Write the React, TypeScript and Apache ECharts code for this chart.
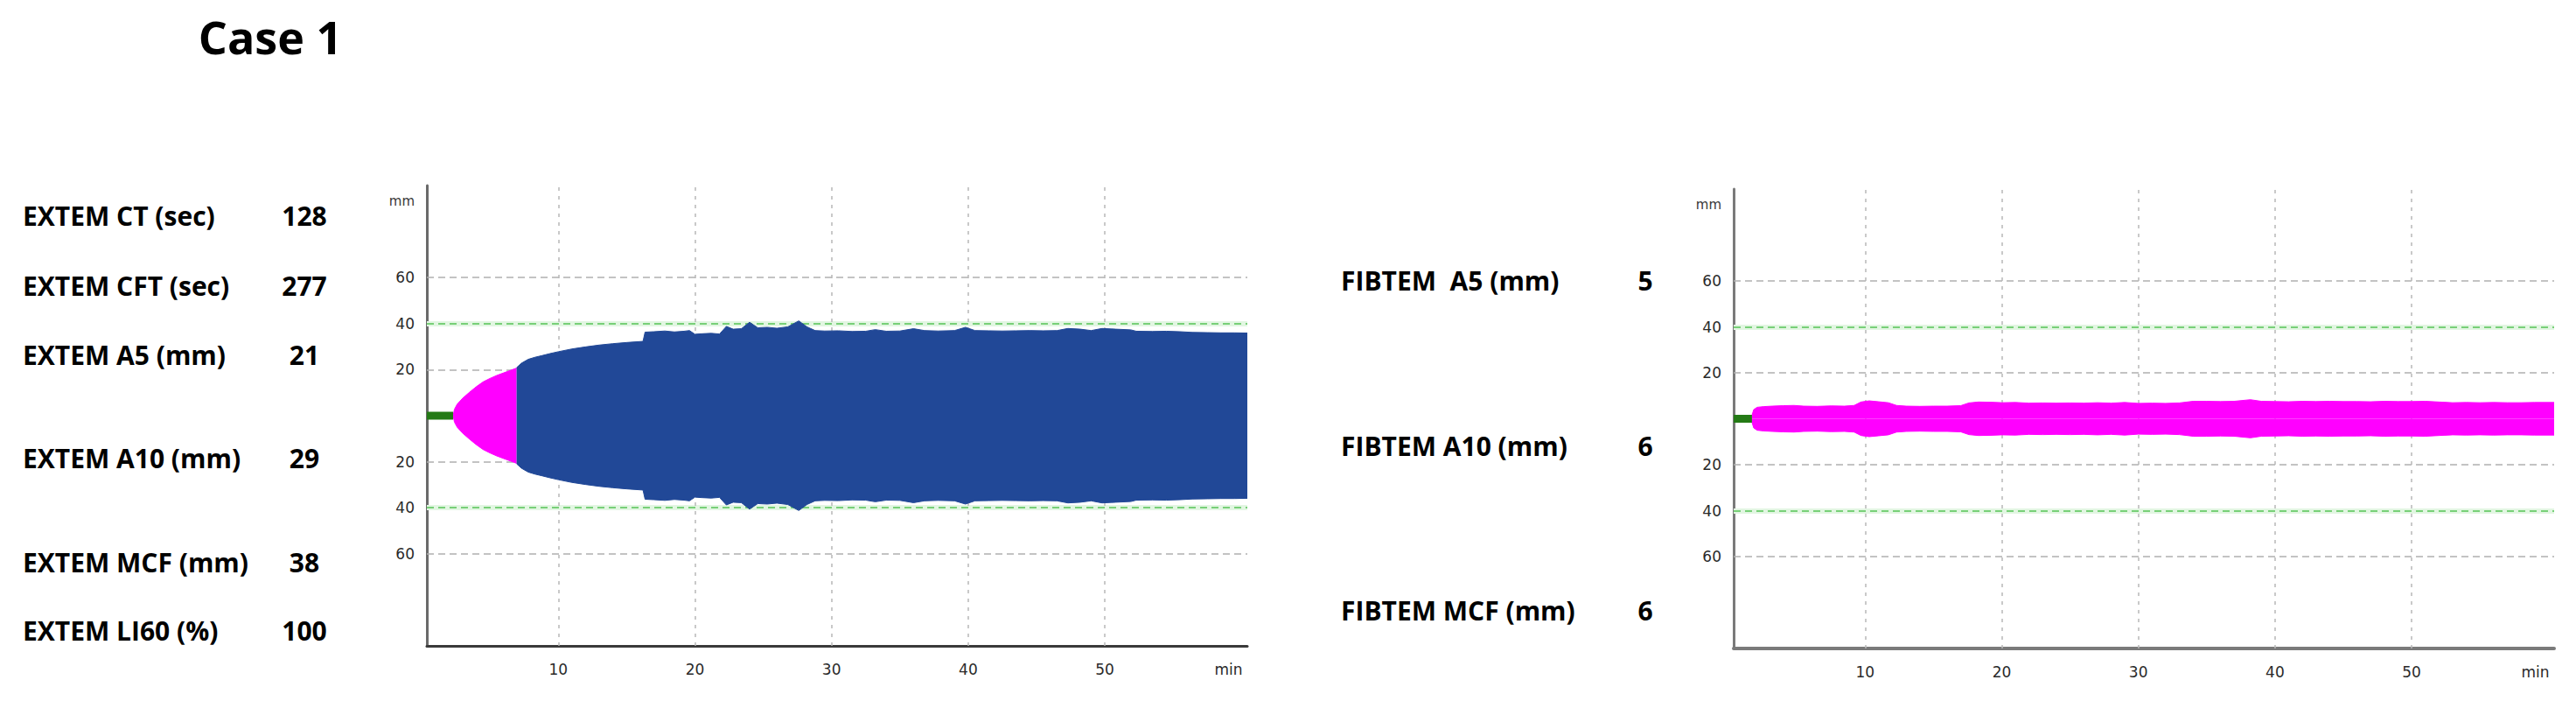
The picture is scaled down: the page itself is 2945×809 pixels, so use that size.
import React, { useEffect, useRef } from "react";
import * as echarts from "echarts";

// ---------- data ----------
const titleText = "Case 1";

const extemLabels = [
  "EXTEM CT (sec)",
  "EXTEM CFT (sec)",
  "EXTEM A5 (mm)",
  "EXTEM A10 (mm)",
  "EXTEM MCF (mm)",
  "EXTEM LI60 (%)",
];
const extemValues = ["128", "277", "21", "29", "38", "100"];

const fibtemLabels = ["FIBTEM  A5 (mm)", "FIBTEM A10 (mm)", "FIBTEM MCF (mm)"];
const fibtemValues = ["5", "6", "6"];

const xTickValues = [10, 20, 30, 40, 50];
const yTickValues = [60, 40, 20, -20, -40, -60];
const greyGridValues = [60, 20, -20, -60];
const greenGridValues = [40, -40];
const xUnit = "min";
const yUnit = "mm";

// EXTEM trace (time in min, half amplitude in mm)
const extemBaselineT = [0.38, 2.3];
const extemPinkT = [2.3, 2.4, 2.6, 3.0, 3.5, 4.0, 4.5, 5.0, 5.5, 6.0, 6.5, 6.95];
const extemPinkAmp = [0, 2.8, 5.0, 7.6, 10.2, 12.6, 14.7, 16.2, 17.5, 18.6, 19.7, 20.7];
const extemBlueT = [
  6.95, 7.3, 7.8, 8.3, 8.8, 9.4, 10.0, 11.0, 12.0, 13.0, 14.0, 15.0, 16.2, 16.35,
  17.0, 17.8, 18.5, 19.2, 19.6, 20.0, 20.5, 21.2, 21.8, 22.3, 22.8, 23.4, 24.0,
  24.6, 25.3, 26.0, 26.8, 27.6, 28.2, 28.8, 29.5, 30.5, 31.5, 32.5, 33.2, 34.0,
  35.0, 36.0, 36.8, 37.8, 39.0, 39.8, 40.5, 41.5, 42.5, 43.5, 44.5, 45.5, 46.5,
  47.3, 48.2, 49.0, 49.8, 50.8, 51.9, 52.3, 53.5, 54.5, 55.5, 56.4, 57.5, 58.5,
  59.5, 60.43,
];
const extemBlueAmp = [
  20.9, 22.8, 24.5, 25.4, 26.1, 27.0, 27.8, 29.0, 29.9, 30.7, 31.3, 31.8, 32.3, 36.3,
  36.5, 36.8, 36.4, 36.7, 37.0, 35.4, 35.6, 35.8, 35.5, 38.8, 37.6, 37.8, 40.6,
  38.2, 38.4, 38.0, 38.6, 41.2, 38.6, 37.0, 36.8, 36.9, 36.6, 36.7, 37.4, 36.7,
  36.8, 37.8, 37.0, 36.8, 37.0, 38.4, 37.0, 36.9, 36.8, 36.9, 37.0, 36.9, 37.0,
  37.9, 37.6, 37.0, 37.9, 37.6, 37.3, 36.7, 36.6, 36.7, 36.5, 36.2, 36.1, 36.0,
  36.0, 35.9,
];

// FIBTEM trace
const fibtemBaselineT = [0.38, 1.72];
const fibtemT = [
  1.72, 1.85, 2.1, 2.6, 3.2, 4.0, 4.8, 5.5, 6.5, 7.5, 8.5, 9.2, 9.7, 10.3, 11.0,
  11.7, 12.3, 13.0, 14.0, 15.0, 16.0, 17.0, 17.6, 18.3, 19.2, 20.0, 21.0, 22.0,
  23.0, 24.0, 25.0, 26.0, 27.0, 28.0, 29.0, 30.0, 31.0, 32.0, 33.0, 34.0, 35.0,
  36.0, 37.0, 38.2, 39.0, 40.0, 41.0, 42.0, 43.0, 44.0, 45.0, 46.0, 47.0, 48.0,
  49.0, 50.0, 51.0, 52.0, 53.0, 54.0, 55.0, 56.0, 57.0, 58.0, 59.0, 60.43,
];
const fibtemAmp = [
  1.5, 4.0, 5.0, 5.3, 5.5, 5.7, 5.8, 5.5, 5.4, 5.6, 5.5, 5.8, 7.3, 7.8, 7.4,
  7.0, 5.8, 5.5, 5.4, 5.5, 5.5, 5.7, 6.9, 7.3, 7.2, 7.0, 7.1, 6.8,
  6.9, 6.8, 6.9, 6.8, 7.0, 6.8, 7.1, 6.7, 6.8, 6.7, 6.9, 7.6, 7.6,
  7.5, 7.6, 8.3, 7.6, 7.5, 7.4, 7.6, 7.5, 7.6, 7.5, 7.5, 7.4, 7.6,
  7.5, 7.5, 7.6, 7.3, 7.0, 7.1, 7.0, 7.1, 7.0, 7.0, 7.1, 7.1,
];

// ---------- layout / style ----------
const X_MIN = 0.38;
const X_MAX = 60.43;
const Y_MIN = -100;
const Y_MAX = 100;
const X_UNIT_POS = 59.05;
const Y_UNIT_POS = 93;

const GRIDS = [
  { left: 488, top: 212, width: 938, height: 526 },
  { left: 1982, top: 216, width: 938, height: 525 },
];
const AXIS_COLORS = [
  { x: "#3a3a3a", y: "#6a6a6a", w: 3 },
  { x: "#7a7a7a", y: "#7a7a7a", w: 4 },
];

const BLUE = "#214897";
const PINK = "#ff00ff";
const GREEN = "#247a16";
const LABEL_FONT = '"DejaVu Sans", Verdana, sans-serif';
const TEXT_FONT = '"Open Sans", "Noto Sans", sans-serif';

const extemRowsY = [246, 326, 405, 523, 642, 720];
const fibtemRowsY = [320, 509, 697];

function traceSeries(idx: number, name: string, ts: number[], amps: number[], color: string) {
  const upper = ts.map((t, k) => [t, amps[k]]);
  const lower = ts.map((t, k) => [t, -amps[k]]);
  return [upper, lower].map((d, j) => ({
    type: "line",
    name: `${name} ${j ? "lower" : "upper"}`,
    xAxisIndex: idx,
    yAxisIndex: idx,
    data: d,
    symbol: "none",
    silent: true,
    z: 2,
    lineStyle: { width: 1, color },
    areaStyle: { color, opacity: 1 },
  }));
}

function baselineSeries(idx: number, ts: number[]) {
  const greyDash = { color: "#b0b0b0", width: 1.5, type: [8, 5] };
  const vDash = { color: "#b8b8b8", width: 1.5, type: [4, 6] };
  const mlData: any[] = [];
  greyGridValues.forEach((v) => mlData.push({ yAxis: v, lineStyle: greyDash }));
  greenGridValues.forEach((v) => {
    mlData.push({ yAxis: v, lineStyle: { color: "#e2f6e2", width: 6, type: "solid" } });
    mlData.push({ yAxis: v, lineStyle: { color: "#55c455", width: 1.5, type: [8, 5] } });
  });
  xTickValues.forEach((v) => mlData.push({ xAxis: v, lineStyle: vDash }));
  return {
    type: "line",
    name: "baseline" + idx,
    xAxisIndex: idx,
    yAxisIndex: idx,
    data: ts.map((t) => [t, 0]),
    symbol: "none",
    silent: true,
    z: 3,
    lineStyle: { width: 9, color: GREEN, cap: "butt" },
    markLine: {
      silent: true,
      symbol: "none",
      z: 1,
      animation: false,
      label: { show: false },
      emphasis: { disabled: true },
      data: mlData,
    },
  };
}

export default function App() {
  const ref = useRef<HTMLDivElement>(null);

  useEffect(() => {
    document.body.style.margin = "0";
    const chart = echarts.init(ref.current as HTMLDivElement, null, { renderer: "svg" });

    const graphics: any[] = [
      {
        type: "text",
        x: 309,
        y: 41,
        style: {
          text: titleText,
          font: `700 52px ${TEXT_FONT}`,
          fill: "#000",
          align: "center",
          verticalAlign: "middle",
        },
      },
    ];
    extemLabels.forEach((s, i) => {
      graphics.push({
        type: "text",
        x: 26,
        y: extemRowsY[i],
        style: { text: s, font: `700 30px ${TEXT_FONT}`, fill: "#000", align: "left", verticalAlign: "middle" },
      });
      graphics.push({
        type: "text",
        x: 348,
        y: extemRowsY[i],
        style: { text: extemValues[i], font: `700 30px ${TEXT_FONT}`, fill: "#000", align: "center", verticalAlign: "middle" },
      });
    });
    fibtemLabels.forEach((s, i) => {
      graphics.push({
        type: "text",
        x: 1533,
        y: fibtemRowsY[i],
        style: { text: s, font: `700 30px ${TEXT_FONT}`, fill: "#000", align: "left", verticalAlign: "middle" },
      });
      graphics.push({
        type: "text",
        x: 1881,
        y: fibtemRowsY[i],
        style: { text: fibtemValues[i], font: `700 30px ${TEXT_FONT}`, fill: "#000", align: "center", verticalAlign: "middle" },
      });
    });

    const option: any = {
      animation: false,
      backgroundColor: "#ffffff",
      grid: GRIDS.map((g) => ({ ...g, containLabel: false })),
      xAxis: GRIDS.map((_, i) => ({
        type: "value",
        gridIndex: i,
        min: X_MIN,
        max: X_MAX,
        axisLine: { show: true, onZero: false, lineStyle: { color: AXIS_COLORS[i].x, width: AXIS_COLORS[i].w } },
        axisTick: { show: false },
        splitLine: { show: false },
        axisLabel: {
          customValues: [...xTickValues, X_UNIT_POS],
          formatter: (v: number) => (v === X_UNIT_POS ? xUnit : String(v)),
          margin: 18,
          fontSize: 17,
          color: "#2a2a2a",
          fontFamily: LABEL_FONT,
        },
      })),
      yAxis: GRIDS.map((_, i) => ({
        type: "value",
        gridIndex: i,
        min: Y_MIN,
        max: Y_MAX,
        axisLine: { show: true, onZero: false, lineStyle: { color: AXIS_COLORS[i].y, width: 3 } },
        axisTick: { show: false },
        splitLine: { show: false },
        axisLabel: {
          customValues: [Y_UNIT_POS, ...yTickValues],
          formatter: (v: number) => (v === Y_UNIT_POS ? `{u|${yUnit}}` : String(Math.abs(v))),
          margin: 14,
          fontSize: 17,
          color: "#2a2a2a",
          fontFamily: LABEL_FONT,
          rich: { u: { fontSize: 15, color: "#3a3a3a", fontFamily: LABEL_FONT } },
        },
      })),
      series: [
        baselineSeries(0, extemBaselineT),
        ...traceSeries(0, "EXTEM early", extemPinkT, extemPinkAmp, PINK),
        ...traceSeries(0, "EXTEM", extemBlueT, extemBlueAmp, BLUE),
        baselineSeries(1, fibtemBaselineT),
        ...traceSeries(1, "FIBTEM", fibtemT, fibtemAmp, PINK),
      ],
      graphic: graphics,
    };

    chart.setOption(option);
    return () => chart.dispose();
  }, []);

  return (
    <div
      ref={ref}
      style={{ position: "absolute", left: 0, top: 0, width: 2945, height: 809, background: "#fff" }}
    />
  );
}
